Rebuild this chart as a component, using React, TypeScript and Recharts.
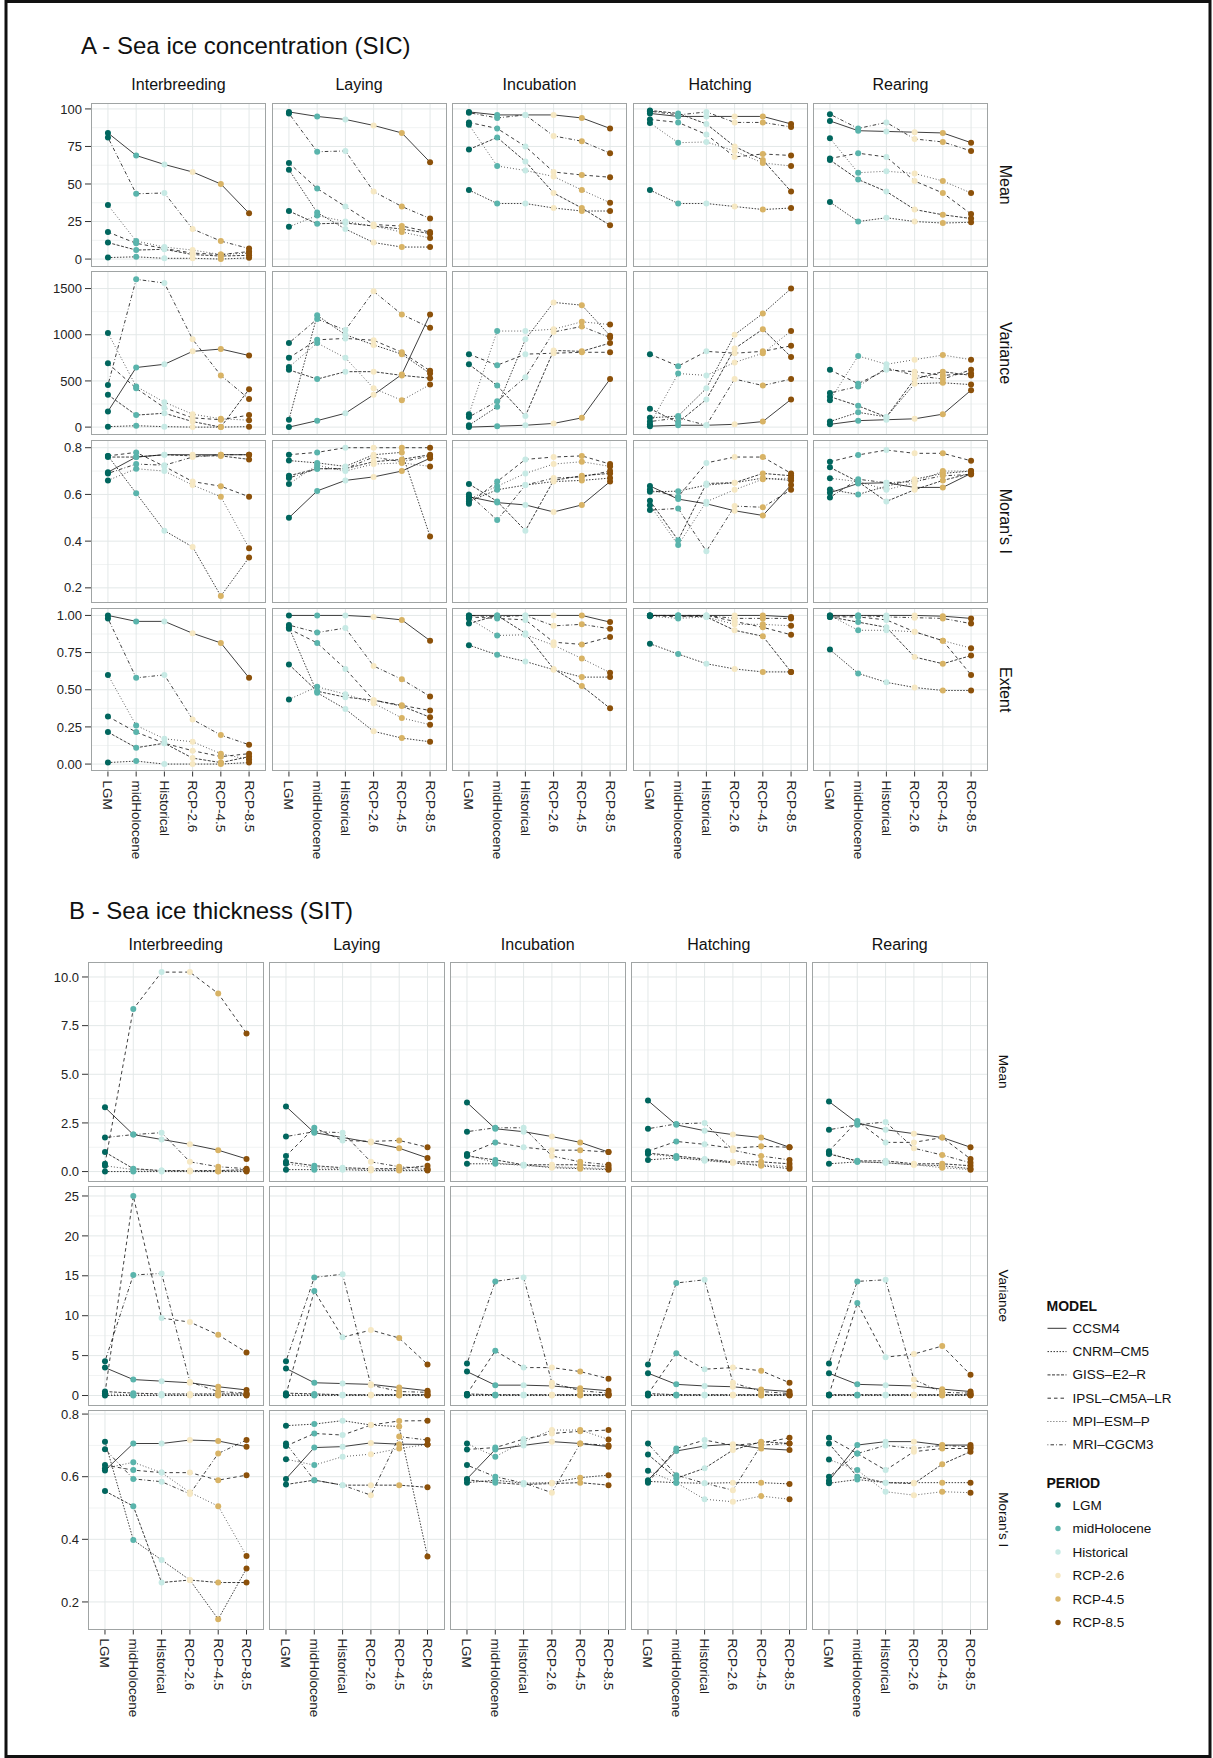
import React from 'react';
import { LineChart, Line, XAxis, YAxis, CartesianGrid } from 'recharts';

const FONT = '"Liberation Sans", Arial, Helvetica, sans-serif';

const PERIODS = ['LGM', 'midHolocene', 'Historical', 'RCP-2.6', 'RCP-4.5', 'RCP-8.5'];
const PERIOD_COLORS = ['#01665e', '#5ab4ac', '#c7eae5', '#f6e8c3', '#d8b365', '#8c510a'];
const MODELS = ['CCSM4', 'CNRM–CM5', 'GISS–E2–R', 'IPSL–CM5A–LR', 'MPI–ESM–P', 'MRI–CGCM3'];
const MODEL_DASH = ['', '1.5 1.5', '3 1.5', '3.5 3', '0.8 2.2', '0.8 2.2 3.5 2.2'];
const STAGES = ['Interbreeding', 'Laying', 'Incubation', 'Hatching', 'Rearing'];

// ---------- A: Sea ice concentration (rows = models in MODELS order, cols = PERIODS) ----------
const SIC_MEAN_INTERBREEDING = [
  [84, 69, 63, 58, 50, 30.5],
  [1, 1.5, 0.5, 0.5, 0, 0.8],
  [11, 6, 6.5, 3, 2, 2.5],
  [18, 10.5, 7, 4, 3, 5],
  [36, 12, 8, 6, 3, 4],
  [81, 43.5, 44, 20, 12, 7],
];
const SIC_MEAN_LAYING = [
  [98, 95, 93, 89, 84, 64.5],
  [59.5, 31, 20, 11, 8, 8],
  [32, 23.5, 24, 22, 20, 17],
  [64, 47, 35, 23, 22, 18],
  [21.5, 29, 25, 22, 18, 14],
  [97, 71.5, 72, 45, 35, 27],
];
const SIC_MEAN_INCUBATION = [
  [98, 96, 96, 96, 94, 87],
  [46, 37, 37, 34, 32, 32],
  [73, 81, 65, 44, 34, 22.5],
  [91, 87, 75, 58, 56, 54.5],
  [89.5, 62, 59, 55, 46, 37.5],
  [97.5, 94, 96, 82, 78.5, 70.5],
];
const SIC_MEAN_HATCHING = [
  [97, 95, 95, 95, 95, 90],
  [46, 37, 37, 35, 33, 34],
  [99, 97, 90, 75, 66, 45],
  [93, 91, 83, 68, 70, 69],
  [90.7, 77.5, 78, 72, 64, 62],
  [98.5, 96, 98, 91, 91, 88],
];
const SIC_MEAN_REARING = [
  [92, 85.5, 85, 84.5, 84, 77.5],
  [38, 25, 27.5, 25, 24, 24.5],
  [66, 53, 45, 33, 29.5, 27],
  [67, 70.5, 68, 52, 44, 30],
  [80.5, 57.5, 58.5, 57, 52, 44],
  [96.5, 87, 91, 80, 78, 72],
];

const SIC_VAR_INTERBREEDING = [
  [170, 645, 680, 820, 845, 775],
  [5, 15, 5, 0, 0, 5],
  [350, 130, 150, 60, 0, 410],
  [690, 420, 210, 100, 80, 130],
  [1020, 440, 270, 140, 90, 75],
  [455, 1600, 1560, 950, 560, 305],
];
const SIC_VAR_LAYING = [
  [0, 70, 150, 350, 570, 1220],
  [80, 1210, 1000, 890, 790, 580],
  [620, 520, 600, 600, 560, 530],
  [750, 945, 960, 940, 810, 610],
  [650, 910, 750, 420, 290, 460],
  [910, 1170, 1050, 1470, 1220, 1075],
];
const SIC_VAR_INCUBATION = [
  [0, 10, 20, 40, 100, 520],
  [20, 220, 950, 1350, 1320, 990],
  [680, 450, 120, 830, 820, 910],
  [790, 670, 790, 800, 810, 810],
  [140, 1040, 1040, 1060, 1140, 1110],
  [110, 280, 540, 1030, 1090, 970],
];
const SIC_VAR_HATCHING = [
  [10, 20, 20, 30, 60, 300],
  [100, 120, 420, 1000, 1230, 1500],
  [200, 50, 300, 850, 1060, 760],
  [790, 660, 820, 800, 820, 880],
  [30, 580, 560, 700, 800, 1040],
  [60, 100, 20, 520, 450, 520],
];
const SIC_VAR_REARING = [
  [30, 70, 80, 90, 140, 400],
  [60, 160, 110, 470, 480, 460],
  [330, 230, 110, 520, 600, 560],
  [620, 470, 620, 600, 560, 580],
  [290, 770, 680, 730, 780, 730],
  [370, 440, 640, 560, 520, 620],
];

const SIC_MORAN_INTERBREEDING = [
  [0.695, 0.76, 0.77, 0.77, 0.77, 0.77],
  [0.765, 0.605, 0.445, 0.375, 0.165, 0.33],
  [0.76, 0.76, 0.77, 0.765, 0.765, 0.75],
  [0.765, 0.78, 0.72, 0.655, 0.635, 0.59],
  [0.66, 0.71, 0.7, 0.64, 0.59, 0.37],
  [0.69, 0.73, 0.725, 0.76, 0.77, 0.77],
];
const SIC_MORAN_LAYING = [
  [0.5, 0.615, 0.66, 0.675, 0.7, 0.755],
  [0.745, 0.735, 0.72, 0.77, 0.78, 0.42],
  [0.68, 0.71, 0.71, 0.74, 0.75, 0.77],
  [0.77, 0.78, 0.8, 0.8, 0.8, 0.8],
  [0.645, 0.725, 0.7, 0.73, 0.735, 0.72],
  [0.67, 0.71, 0.71, 0.76, 0.74, 0.765],
];
const SIC_MORAN_INCUBATION = [
  [0.59, 0.565, 0.555, 0.525, 0.555, 0.655],
  [0.57, 0.62, 0.64, 0.655, 0.66, 0.67],
  [0.645, 0.57, 0.445, 0.66, 0.68, 0.69],
  [0.56, 0.655, 0.75, 0.76, 0.765, 0.73],
  [0.58, 0.635, 0.69, 0.73, 0.74, 0.72],
  [0.6, 0.49, 0.64, 0.67, 0.675, 0.7],
];
const SIC_MORAN_HATCHING = [
  [0.636, 0.58, 0.56, 0.53, 0.51, 0.64],
  [0.611, 0.614, 0.64, 0.65, 0.67, 0.66],
  [0.573, 0.404, 0.647, 0.65, 0.69, 0.68],
  [0.621, 0.59, 0.735, 0.76, 0.76, 0.69],
  [0.554, 0.383, 0.569, 0.62, 0.665, 0.67],
  [0.533, 0.54, 0.357, 0.55, 0.545, 0.62],
];
const SIC_MORAN_REARING = [
  [0.607, 0.647, 0.65, 0.63, 0.63, 0.69],
  [0.621, 0.6, 0.635, 0.665, 0.69, 0.7],
  [0.716, 0.654, 0.57, 0.62, 0.66, 0.69],
  [0.74, 0.769, 0.79, 0.776, 0.776, 0.744],
  [0.669, 0.655, 0.62, 0.65, 0.7, 0.7],
  [0.587, 0.665, 0.65, 0.655, 0.68, 0.685],
];

const SIC_EXTENT_INTERBREEDING = [
  [1.0, 0.96, 0.96, 0.88, 0.815, 0.58],
  [0.01, 0.02, 0.0, 0.0, 0.0, 0.01],
  [0.215, 0.11, 0.14, 0.04, 0.01, 0.05],
  [0.32, 0.215, 0.14, 0.09, 0.05, 0.07],
  [0.6, 0.26, 0.17, 0.15, 0.07, 0.03],
  [0.98, 0.58, 0.6, 0.3, 0.195, 0.13],
];
const SIC_EXTENT_LAYING = [
  [1.0, 1.0, 1.0, 0.99, 0.97, 0.83],
  [0.92, 0.48, 0.37, 0.22, 0.175, 0.15],
  [0.67, 0.49, 0.45, 0.43, 0.39, 0.315],
  [0.91, 0.815, 0.64, 0.43, 0.395, 0.36],
  [0.435, 0.52, 0.47, 0.41, 0.31, 0.265],
  [0.935, 0.885, 0.915, 0.66, 0.57, 0.455],
];
const SIC_EXTENT_INCUBATION = [
  [1.0, 1.0, 1.0, 1.0, 1.0, 0.955],
  [0.8, 0.735, 0.69, 0.635, 0.585, 0.585],
  [0.945, 1.0, 0.88, 0.64, 0.525, 0.375],
  [0.99, 0.98, 0.97, 0.82, 0.805, 0.855],
  [0.98, 0.865, 0.87, 0.8, 0.71, 0.615],
  [1.0, 0.99, 1.0, 0.93, 0.94, 0.91],
];
const SIC_EXTENT_HATCHING = [
  [1.0, 1.0, 1.0, 1.0, 1.0, 0.99],
  [0.81, 0.74, 0.675, 0.64, 0.62, 0.62],
  [1.0, 1.0, 0.99, 0.9, 0.86, 0.62],
  [1.0, 0.99, 1.0, 0.96, 0.92, 0.87],
  [0.995, 0.98, 0.99, 0.94, 0.94, 0.93],
  [1.0, 1.0, 1.0, 0.98, 0.98, 0.98],
];
const SIC_EXTENT_REARING = [
  [1.0, 1.0, 1.0, 1.0, 0.995, 0.98],
  [0.77, 0.61, 0.55, 0.515, 0.495, 0.495],
  [0.99, 0.955, 0.92, 0.72, 0.675, 0.73],
  [0.99, 0.99, 0.97, 0.89, 0.83, 0.6],
  [1.0, 0.9, 0.9, 0.89, 0.83, 0.78],
  [0.995, 1.0, 0.99, 0.985, 0.98, 0.945],
];

// ---------- B: Sea ice thickness ----------
const SIT_MEAN_INTERBREEDING = [
  [3.3, 1.9, 1.65, 1.4, 1.1, 0.65],
  [0.0, 0.0, 0.0, 0.0, 0.0, 0.0],
  [1.0, 0.15, 0.05, 0.05, 0.05, 0.1],
  [0.4, 8.35, 10.25, 10.25, 9.15, 7.1],
  [0.3, 0.1, 0.05, 0.02, 0.02, 0.05],
  [1.75, 1.9, 2.0, 0.5, 0.25, 0.15],
];
const SIT_MEAN_LAYING = [
  [3.35, 2.0, 1.75, 1.5, 1.2, 0.7],
  [0.1, 0.1, 0.1, 0.05, 0.05, 0.05],
  [0.5, 0.3, 0.2, 0.15, 0.15, 0.3],
  [0.8, 2.25, 1.6, 1.55, 1.6, 1.25],
  [0.4, 0.2, 0.15, 0.1, 0.1, 0.1],
  [1.8, 2.05, 2.0, 0.5, 0.25, 0.15],
];
const SIT_MEAN_INCUBATION = [
  [3.55, 2.2, 2.05, 1.8, 1.5, 1.0],
  [0.4, 0.4, 0.35, 0.2, 0.15, 0.1],
  [0.8, 0.6, 0.35, 0.35, 0.35, 0.25],
  [0.9, 1.5, 1.25, 1.1, 1.1, 1.0],
  [0.85, 0.45, 0.3, 0.25, 0.2, 0.15],
  [2.05, 2.25, 2.25, 0.8, 0.5, 0.35],
];
const SIT_MEAN_HATCHING = [
  [3.65, 2.4, 2.1, 1.9, 1.75, 1.25],
  [0.6, 0.7, 0.6, 0.45, 0.3, 0.15],
  [0.95, 0.8, 0.65, 0.5, 0.5, 0.4],
  [1.05, 1.55, 1.4, 1.2, 1.3, 1.25],
  [0.9, 0.75, 0.55, 0.45, 0.35, 0.25],
  [2.2, 2.45, 2.5, 1.1, 0.8, 0.6],
];
const SIT_MEAN_REARING = [
  [3.6, 2.5, 2.15, 1.95, 1.75, 1.25],
  [0.4, 0.5, 0.45, 0.35, 0.3, 0.15],
  [0.9, 0.55, 0.55, 0.4, 0.4, 0.3],
  [1.05, 2.6, 1.5, 1.5, 1.75, 0.65],
  [0.95, 0.5, 0.45, 0.35, 0.2, 0.1],
  [2.15, 2.4, 2.55, 1.2, 0.85, 0.45],
];

const SIT_VAR_INTERBREEDING = [
  [3.5, 2.0, 1.8, 1.6, 1.1, 0.7],
  [0.0, 0.0, 0.0, 0.0, 0.0, 0.0],
  [0.5, 0.3, 0.2, 0.2, 0.2, 0.2],
  [0.3, 25, 9.7, 9.2, 7.6, 5.4],
  [0.2, 0.1, 0.1, 0.1, 0.1, 0.1],
  [4.3, 15.1, 15.3, 1.7, 0.5, 0.3],
];
const SIT_VAR_LAYING = [
  [3.4, 1.6, 1.5, 1.4, 1.0, 0.6],
  [0.0, 0.0, 0.0, 0.0, 0.0, 0.0],
  [0.3, 0.2, 0.1, 0.1, 0.1, 0.1],
  [0.1, 13.1, 7.3, 8.2, 7.2, 3.9],
  [0.1, 0.1, 0.1, 0.1, 0.1, 0.1],
  [4.3, 14.8, 15.2, 1.3, 0.5, 0.4],
];
const SIT_VAR_INCUBATION = [
  [3.0, 1.3, 1.3, 1.2, 0.9, 0.6],
  [0.0, 0.0, 0.0, 0.0, 0.0, 0.0],
  [0.2, 0.1, 0.1, 0.1, 0.1, 0.1],
  [0.2, 5.6, 3.5, 3.5, 3.0, 2.1],
  [0.1, 0.1, 0.1, 0.1, 0.1, 0.1],
  [4.0, 14.3, 14.8, 1.6, 0.6, 0.3],
];
const SIT_VAR_HATCHING = [
  [2.8, 1.4, 1.2, 1.1, 0.75, 0.5],
  [0.0, 0.0, 0.0, 0.0, 0.0, 0.0],
  [0.25, 0.1, 0.1, 0.1, 0.1, 0.1],
  [0.2, 5.3, 3.3, 3.5, 3.1, 1.6],
  [0.1, 0.1, 0.1, 0.1, 0.1, 0.1],
  [3.9, 14.1, 14.5, 1.6, 0.5, 0.25],
];
const SIT_VAR_REARING = [
  [2.8, 1.4, 1.3, 1.2, 0.8, 0.5],
  [0.0, 0.0, 0.0, 0.0, 0.0, 0.0],
  [0.1, 0.1, 0.1, 0.1, 0.1, 0.1],
  [0.1, 11.6, 4.8, 5.2, 6.2, 2.6],
  [0.1, 0.1, 0.1, 0.1, 0.1, 0.1],
  [4.0, 14.3, 14.5, 2.0, 0.4, 0.3],
];

const SIT_MORAN_INTERBREEDING = [
  [0.62, 0.706, 0.706, 0.717, 0.714, 0.696],
  [0.712, 0.398, 0.334, 0.27, 0.145, 0.307],
  [0.554, 0.506, 0.262, 0.27, 0.262, 0.262],
  [0.637, 0.621, 0.613, 0.613, 0.589, 0.605],
  [0.627, 0.646, 0.613, 0.55, 0.506, 0.347],
  [0.688, 0.593, 0.584, 0.545, 0.674, 0.717],
];
const SIT_MORAN_LAYING = [
  [0.593, 0.693, 0.696, 0.708, 0.704, 0.703],
  [0.763, 0.768, 0.779, 0.765, 0.76, 0.345],
  [0.575, 0.589, 0.573, 0.573, 0.573, 0.566],
  [0.698, 0.738, 0.733, 0.765, 0.778, 0.779],
  [0.656, 0.637, 0.664, 0.672, 0.69, 0.703],
  [0.706, 0.589, 0.573, 0.541, 0.728, 0.717],
];
const SIT_MORAN_INCUBATION = [
  [0.593, 0.687, 0.7, 0.712, 0.706, 0.696],
  [0.581, 0.589, 0.579, 0.581, 0.597, 0.605],
  [0.59, 0.581, 0.575, 0.578, 0.581, 0.573],
  [0.687, 0.693, 0.72, 0.738, 0.745, 0.749],
  [0.706, 0.664, 0.712, 0.749, 0.749, 0.719],
  [0.637, 0.6, 0.58, 0.549, 0.706, 0.7],
];
const SIT_MORAN_HATCHING = [
  [0.589, 0.682, 0.698, 0.704, 0.69, 0.685],
  [0.585, 0.581, 0.579, 0.581, 0.581, 0.577],
  [0.671, 0.595, 0.627, 0.685, 0.712, 0.706],
  [0.581, 0.69, 0.717, 0.7, 0.708, 0.724],
  [0.619, 0.581, 0.528, 0.52, 0.538, 0.528],
  [0.706, 0.605, 0.579, 0.557, 0.701, 0.706],
];
const SIT_MORAN_REARING = [
  [0.587, 0.701, 0.712, 0.712, 0.701, 0.701],
  [0.579, 0.591, 0.581, 0.581, 0.581, 0.581],
  [0.706, 0.6, 0.581, 0.578, 0.64, 0.68],
  [0.724, 0.674, 0.621, 0.68, 0.69, 0.69],
  [0.655, 0.621, 0.552, 0.541, 0.552, 0.549],
  [0.6, 0.674, 0.7, 0.69, 0.7, 0.695],
];

// ---------- facet rows ----------
const SIC_ROWS = [
  { name: 'Mean', domain: [-4.95, 103.95], ticks: [0, 25, 50, 75, 100], minor: [12.5, 37.5, 62.5, 87.5], dec: 0,
    panels: [SIC_MEAN_INTERBREEDING, SIC_MEAN_LAYING, SIC_MEAN_INCUBATION, SIC_MEAN_HATCHING, SIC_MEAN_REARING] },
  { name: 'Variance', domain: [-80, 1690], ticks: [0, 500, 1000, 1500], minor: [250, 750, 1250], dec: 0,
    panels: [SIC_VAR_INTERBREEDING, SIC_VAR_LAYING, SIC_VAR_INCUBATION, SIC_VAR_HATCHING, SIC_VAR_REARING] },
  { name: "Moran's I", domain: [0.133, 0.833], ticks: [0.2, 0.4, 0.6, 0.8], minor: [0.3, 0.5, 0.7], dec: 1,
    panels: [SIC_MORAN_INTERBREEDING, SIC_MORAN_LAYING, SIC_MORAN_INCUBATION, SIC_MORAN_HATCHING, SIC_MORAN_REARING] },
  { name: 'Extent', domain: [-0.05, 1.05], ticks: [0, 0.25, 0.5, 0.75, 1], minor: [0.125, 0.375, 0.625, 0.875], dec: 2,
    panels: [SIC_EXTENT_INTERBREEDING, SIC_EXTENT_LAYING, SIC_EXTENT_INCUBATION, SIC_EXTENT_HATCHING, SIC_EXTENT_REARING] },
];
const SIT_ROWS = [
  { name: 'Mean', domain: [-0.51, 10.77], ticks: [0, 2.5, 5, 7.5, 10], minor: [1.25, 3.75, 6.25, 8.75], dec: 1,
    panels: [SIT_MEAN_INTERBREEDING, SIT_MEAN_LAYING, SIT_MEAN_INCUBATION, SIT_MEAN_HATCHING, SIT_MEAN_REARING] },
  { name: 'Variance', domain: [-1.25, 26.25], ticks: [0, 5, 10, 15, 20, 25], minor: [2.5, 7.5, 12.5, 17.5, 22.5], dec: 0,
    panels: [SIT_VAR_INTERBREEDING, SIT_VAR_LAYING, SIT_VAR_INCUBATION, SIT_VAR_HATCHING, SIT_VAR_REARING] },
  { name: "Moran's I", domain: [0.112, 0.813], ticks: [0.2, 0.4, 0.6, 0.8], minor: [0.3, 0.5, 0.7], dec: 1,
    panels: [SIT_MORAN_INTERBREEDING, SIT_MORAN_LAYING, SIT_MORAN_INCUBATION, SIT_MORAN_HATCHING, SIT_MORAN_REARING] },
];

const X_IDX = [0, 1, 2, 3, 4, 5];

const renderDot = (props: any) => {
  const { cx, cy, index } = props;
  if (cx == null || cy == null) return <g key={`e${index}`} />;
  return <circle key={`d${index}`} cx={cx} cy={cy} r={3} fill={PERIOD_COLORS[index]} stroke="none" />;
};

const XTick = (props: any) => {
  const { x, y, payload } = props;
  return (
    <text x={x} y={y} transform={`rotate(90 ${x} ${y})`} textAnchor="start" dominantBaseline="central"
      fontSize={13.5} fill="#222" fontFamily={FONT}>
      {PERIODS[payload.value]}
    </text>
  );
};

const PAD_TOP = 10;

function Panel(props: any) {
  const { rows, row, left, top, width, height, showY, showX } = props;
  const data = PERIODS.map((p, i) => {
    const o: any = { x: i, period: p };
    MODELS.forEach((m, k) => { o['m' + k] = rows[k][i]; });
    return o;
  });
  const yW = showY ? 52 : 0;
  const xH = showX ? 100 : 0;
  const W = width + yW;
  const H = height + xH + PAD_TOP;
  return (
    <div style={{ position: 'absolute', left: left - yW, top: top - PAD_TOP, width: W, height: H }}>
      <LineChart width={W} height={H} data={data} margin={{ top: PAD_TOP, right: 0, bottom: 0, left: 0 }}>
        <CartesianGrid horizontalValues={row.minor} vertical={false} stroke="#f1f3f3" strokeWidth={1} />
        <CartesianGrid horizontalValues={row.ticks} verticalValues={X_IDX} stroke="#e3e8e8" strokeWidth={1} />
        <XAxis type="number" dataKey="x" domain={[-0.6, 5.6]} ticks={X_IDX} interval={0} allowDataOverflow
          hide={!showX} height={xH} axisLine={false} tickLine={{ stroke: '#333' }} tickSize={5} tickMargin={4}
          tick={<XTick />} />
        <YAxis type="number" domain={row.domain} ticks={row.ticks} interval={0} allowDataOverflow
          hide={!showY} width={yW} axisLine={false} tickLine={{ stroke: '#333' }} tickSize={6} tickMargin={3}
          tick={{ fontSize: 13, fill: '#222', fontFamily: FONT }}
          tickFormatter={(v: number) => v.toFixed(row.dec)} />
        {MODELS.map((m, k) => (
          <Line key={'l' + k} type="linear" dataKey={'m' + k} stroke="#1c1c1c" strokeWidth={0.85}
            strokeDasharray={MODEL_DASH[k] || undefined} dot={false} activeDot={false}
            isAnimationActive={false} />
        ))}
        {MODELS.map((m, k) => (
          <Line key={'p' + k} type="linear" dataKey={'m' + k} stroke="none" dot={renderDot}
            activeDot={false} isAnimationActive={false} />
        ))}
      </LineChart>
      <div style={{ position: 'absolute', left: yW, top: PAD_TOP, width, height, border: '1px solid #a0a4a4',
        boxSizing: 'border-box', pointerEvents: 'none' }} />
    </div>
  );
}

const A_LEFT = 91, A_COL_STEP = 180.5, A_W = 175;
const A_TOP = 103, A_ROW_STEP = 168.3, A_H = 163.5;
const B_LEFT = 88, B_COL_STEP = 181, B_W = 175.5;
const B_TOP = 962, B_ROW_STEP = 224, B_H = 219.5;

export default function App() {
  const panels: any[] = [];
  SIC_ROWS.forEach((row, r) => {
    row.panels.forEach((rows, c) => {
      panels.push(
        <Panel key={`A${r}${c}`} rows={rows} row={row}
          left={A_LEFT + c * A_COL_STEP} top={A_TOP + r * A_ROW_STEP} width={A_W} height={A_H}
          showY={c === 0} showX={r === SIC_ROWS.length - 1} />
      );
    });
  });
  SIT_ROWS.forEach((row, r) => {
    row.panels.forEach((rows, c) => {
      panels.push(
        <Panel key={`B${r}${c}`} rows={rows} row={row}
          left={B_LEFT + c * B_COL_STEP} top={B_TOP + r * B_ROW_STEP} width={B_W} height={B_H}
          showY={c === 0} showX={r === SIT_ROWS.length - 1} />
      );
    });
  });

  return (
    <div style={{ position: 'absolute', left: 0, top: 0, width: 1213, height: 1758, background: '#fff', fontFamily: FONT }}>
      {panels}
      <svg width={1213} height={1758} style={{ position: 'absolute', left: 0, top: 0, pointerEvents: 'none' }}
        fontFamily={FONT}>
        <rect x={6} y={1.5} width={1204} height={1755} fill="none" stroke="#111" strokeWidth={3} />
        <text x={81} y={53.5} fontSize={24} fill="#111">A - Sea ice concentration (SIC)</text>
        <text x={69} y={919} fontSize={24} fill="#111">B - Sea ice thickness (SIT)</text>
        {STAGES.map((s, c) => (
          <text key={'sa' + c} x={A_LEFT + c * A_COL_STEP + A_W / 2} y={84} fontSize={16} fill="#111"
            textAnchor="middle" dominantBaseline="central">{s}</text>
        ))}
        {STAGES.map((s, c) => (
          <text key={'sb' + c} x={B_LEFT + c * B_COL_STEP + B_W / 2} y={944} fontSize={16} fill="#111"
            textAnchor="middle" dominantBaseline="central">{s}</text>
        ))}
        {SIC_ROWS.map((row, r) => {
          const cx = 1005, cy = A_TOP + r * A_ROW_STEP + A_H / 2;
          return (
            <text key={'ra' + r} x={cx} y={cy} transform={`rotate(90 ${cx} ${cy})`} fontSize={16} fill="#111"
              textAnchor="middle" dominantBaseline="central">{row.name}</text>
          );
        })}
        {SIT_ROWS.map((row, r) => {
          const cx = 1003.5, cy = B_TOP + r * B_ROW_STEP + B_H / 2;
          return (
            <text key={'rb' + r} x={cx} y={cy} transform={`rotate(90 ${cx} ${cy})`} fontSize={13.5} fill="#111"
              textAnchor="middle" dominantBaseline="central">{row.name}</text>
          );
        })}
        <g>
          <text x={1046.5} y={1306} fontSize={14} fontWeight="bold" fill="#111" dominantBaseline="central">MODEL</text>
          {MODELS.map((m, k) => {
            const y = 1328.3 + k * 23.3;
            return (
              <g key={'lm' + k}>
                <line x1={1047.5} x2={1066.5} y1={y} y2={y} stroke="#1c1c1c" strokeWidth={0.9}
                  strokeDasharray={MODEL_DASH[k] || undefined} />
                <text x={1072.5} y={y} fontSize={13.5} fill="#111" dominantBaseline="central">{m}</text>
              </g>
            );
          })}
          <text x={1046.5} y={1483} fontSize={14} fontWeight="bold" fill="#111" dominantBaseline="central">PERIOD</text>
          {PERIODS.map((p, k) => {
            const y = 1505 + k * 23.5;
            return (
              <g key={'lp' + k}>
                <circle cx={1058} cy={y} r={2.7} fill={PERIOD_COLORS[k]} />
                <text x={1072.5} y={y} fontSize={13.5} fill="#111" dominantBaseline="central">{p}</text>
              </g>
            );
          })}
        </g>
      </svg>
    </div>
  );
}
